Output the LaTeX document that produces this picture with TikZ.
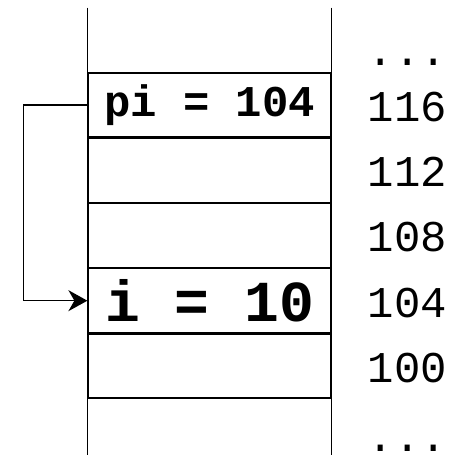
\documentclass[tikz,border=0pt]{standalone}
\usepackage{fontspec}
\setmonofont{Liberation Mono}
\usepackage{tikz}
\usetikzlibrary{positioning,arrows.meta}

\tikzset{
	cell/.style={draw, line width=0.7pt, minimum width=4.86cm, minimum height=1.28cm, inner sep=0pt, font=\ttfamily\bfseries},
	hole/.style={minimum width=4.86cm, minimum height=1.28cm, inner sep=0pt},
	addr/.style={inner sep=0pt, font=\ttfamily\fontsize{25}{28}\selectfont},
	dots/.style={addr, yshift=-0.44cm}
}

\begin{document}
\begin{tikzpicture}
		\useasboundingbox (0,0) rectangle (9.26,-9.1);
		% the stack, top to bottom
		\node[cell, font=\ttfamily\bfseries\fontsize{25}{28}\selectfont] (pi) at (4.19,-2.10) {pi = 104};
		\node[cell, below=0pt of pi] (c112) {};
		\node[cell, below=0pt of c112] (c108) {};
		\node[cell, below=0pt of c108, font=\ttfamily\bfseries\fontsize{33}{38}\selectfont] (i) {i = 10};
		\node[cell, below=0pt of i] (c100) {};
		\node[hole, above=0pt of pi] (top) {};
		\node[hole, below=0pt of c100] (bot) {};
		\draw[line width=0.7pt] (top.north west) -- (top.south west)
			(top.north east) -- (top.south east)
			(bot.north west) -- (bot.south west)
			(bot.north east) -- (bot.south east);
		% addresses
		\node[dots, right=0.72cm of top] {...};
		\node[addr, right=0.72cm of pi, yshift=-0.04cm] {116};
		\node[addr, right=0.72cm of c112, yshift=-0.04cm] {112};
		\node[addr, right=0.72cm of c108, yshift=-0.04cm] {108};
		\node[addr, right=0.72cm of i, yshift=-0.04cm] {104};
		\node[addr, right=0.72cm of c100, yshift=-0.04cm] {100};
		\node[dots, right=0.72cm of bot, yshift=0.1cm] {...};
		% pointer
		\draw[line width=0.7pt, -{Stealth[length=0.38cm, width=0.42cm, inset=0.12cm]}]
			(pi.west) -- ++(-1.28,0) |- (i.west);
\end{tikzpicture}
\end{document}
